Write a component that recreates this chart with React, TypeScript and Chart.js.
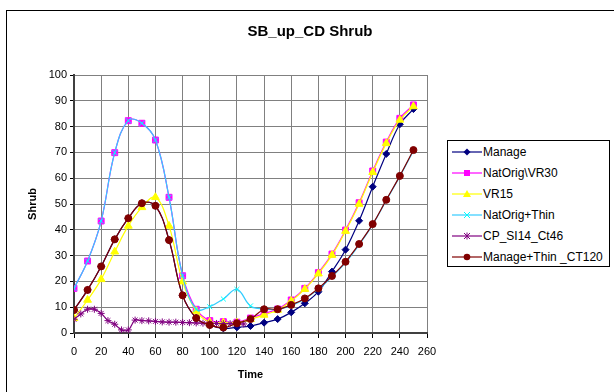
import React, { useEffect, useRef } from 'react';
import { Chart, registerables } from 'chart.js';
Chart.register(...registerables);

const TITLE = 'SB_up_CD Shrub';
const X_TITLE = 'Time';
const Y_TITLE = 'Shrub';
const X_MIN = 0;
const X_MAX = 260;
const X_STEP = 20;
const Y_MIN = 0;
const Y_MAX = 100;
const Y_STEP = 10;

const TIMES = [0, 10, 20, 30, 40, 50, 60, 70, 80, 90, 100, 110, 120, 130, 140, 150, 160, 170, 180, 190, 200, 210, 220, 230, 240, 250];
const MANAGE = [8.9, 16.7, 25.8, 36.3, 44.5, 50.3, 49.3, 36.0, 14.6, 5.8, 3.0, 1.8, 2.2, 2.7, 4.0, 5.4, 8.0, 11.5, 16.0, 23.8, 32.3, 43.5, 56.7, 69.4, 80.9, 86.8];
const NATORIG_VR30 = [17.3, 27.9, 43.4, 69.9, 82.3, 81.3, 74.8, 52.6, 22.2, 9.2, 4.8, 4.4, 4.2, 5.8, 7.5, 9.3, 12.8, 17.3, 23.4, 30.6, 39.9, 50.5, 62.8, 74.0, 83.2, 88.4];
const VR15 = [5.7, 12.8, 20.8, 31.5, 41.5, 48.7, 52.6, 41.5, 19.9, 8.5, 4.2, 4.0, 4.0, 5.3, 7.0, 8.9, 12.4, 17.0, 23.0, 30.2, 39.5, 50.0, 62.3, 73.5, 82.6, 87.8];
const NATORIG_THIN = [17.3, 27.9, 43.4, 69.9, 82.3, 81.3, 74.8, 52.6, 22.2, 9.2, 10.2, 13.2, 16.9, 10.5, 9.3, 9.2, 10.6, 13.2, 17.0, 21.8, 27.3, 34.2, 42.0, 51.4, 60.7, 70.6];
const MANAGE_THIN = [8.9, 16.7, 25.8, 36.3, 44.5, 50.3, 49.3, 36.0, 14.6, 5.8, 3.1, 2.1, 3.8, 5.4, 9.2, 9.2, 10.9, 13.4, 17.3, 22.1, 27.6, 34.5, 42.2, 51.6, 60.9, 70.9];
const CP_TIMES = [0, 5, 10, 15, 20, 25, 30, 35, 40, 45, 50, 55, 60, 65, 70, 75, 80, 85, 90, 95, 100, 105, 110, 115, 120, 125];
const CP_SI14 = [5.3, 7.4, 9.2, 9.2, 7.6, 4.8, 3.4, 1.2, 1.2, 5.0, 4.8, 4.7, 4.5, 4.3, 4.2, 4.2, 4.1, 4.0, 3.9, 3.8, 3.8, 3.7, 3.6, 3.6, 3.5, 3.5];

const NAMES = ['Manage', 'NatOrig\\VR30', 'VR15', 'NatOrig+Thin', 'CP_SI14_Ct46', 'Manage+Thin _CT120'];

const FONT = "'Liberation Sans', Arial, sans-serif";

type Style = { line: string; fill: string; stroke: string; point: string; radius: number };
const STYLES: Style[] = [
  { line: '#000080', fill: '#000080', stroke: '#000080', point: 'rectRot', radius: 3.5 },
  { line: '#FF00FF', fill: '#FF00FF', stroke: '#FF00FF', point: 'rect', radius: 4.2 },
  { line: '#FFFF00', fill: '#FFFF00', stroke: '#FFFF00', point: 'triangle', radius: 4.5 },
  { line: '#33CCFF', fill: '#00FFFF', stroke: '#00FFFF', point: 'crossRot', radius: 3.5 },
  { line: '#800080', fill: '#800080', stroke: '#800080', point: 'star', radius: 3.5 },
  { line: '#800000', fill: '#800000', stroke: '#800000', point: 'circle', radius: 3.5 },
];

function pts(xs: number[], ys: number[]) {
  return xs.map((x, i) => ({ x, y: ys[i] }));
}

function Marker({ i }: { i: number }) {
  const s = STYLES[i];
  const cx = 15, cy = 6;
  let m: React.ReactNode = null;
  if (i === 0) m = <polygon points={`${cx},${cy - 3.5} ${cx + 3.5},${cy} ${cx},${cy + 3.5} ${cx - 3.5},${cy}`} fill={s.fill} />;
  if (i === 1) m = <rect x={cx - 3} y={cy - 3} width={6} height={6} fill={s.fill} />;
  if (i === 2) m = <polygon points={`${cx},${cy - 4} ${cx + 4},${cy + 3} ${cx - 4},${cy + 3}`} fill={s.fill} />;
  if (i === 3) m = <g stroke={s.stroke} strokeWidth={1}><line x1={cx - 3} y1={cy - 3} x2={cx + 3} y2={cy + 3} /><line x1={cx - 3} y1={cy + 3} x2={cx + 3} y2={cy - 3} /></g>;
  if (i === 4) m = <g stroke={s.stroke} strokeWidth={1}><line x1={cx - 3} y1={cy - 3} x2={cx + 3} y2={cy + 3} /><line x1={cx - 3} y1={cy + 3} x2={cx + 3} y2={cy - 3} /><line x1={cx} y1={cy - 3.5} x2={cx} y2={cy + 3.5} /></g>;
  if (i === 5) m = <circle cx={cx} cy={cy} r={3.3} fill={s.fill} />;
  return (
    <svg width={30} height={12} style={{ position: 'absolute', left: 4, top: -6 }}>
      <line x1={0} y1={cy} x2={30} y2={cy} stroke={s.line} strokeWidth={1.2} />
      {m}
    </svg>
  );
}

export default function App() {
  const ref = useRef<HTMLCanvasElement | null>(null);
  useEffect(() => {
    if (!ref.current) return;
    const series = [MANAGE, NATORIG_VR30, VR15, NATORIG_THIN, CP_SI14, MANAGE_THIN];
    const datasets = series.map((vals, i) => {
      const s = STYLES[i];
      const xs = i === 4 ? CP_TIMES : TIMES;
      return {
        label: NAMES[i],
        data: pts(xs, vals),
        borderColor: s.line,
        backgroundColor: s.fill,
        borderWidth: 1.2,
        tension: 0.4,
        pointStyle: s.point as any,
        pointRadius: s.radius,
        pointBackgroundColor: s.fill,
        pointBorderColor: s.stroke,
        pointBorderWidth: 1,
        order: 5 - i,
      };
    });
    const chart = new Chart(ref.current, {
      type: 'line',
      data: { datasets },
      options: {
        animation: false,
        responsive: false,
        devicePixelRatio: 1,
        layout: { padding: { left: 8, right: 187, top: 75, bottom: 0 } },
        plugins: {
          legend: { display: false },
          tooltip: { enabled: false },
          title: { display: false },
        },
        scales: {
          x: {
            type: 'linear',
            min: X_MIN,
            max: X_MAX,
            afterFit: (scale: any) => { scale.height = 59; },
            ticks: { stepSize: X_STEP, color: '#000', font: { family: FONT, size: 11 }, padding: 7, maxRotation: 0 },
            grid: { color: '#808080', tickColor: '#000', tickLength: 5, lineWidth: 1 },
            border: { display: true, color: '#404040', width: 2 },
            title: { display: true, text: X_TITLE, color: '#000', font: { family: FONT, size: 11, weight: 'bold' }, padding: { top: 0, bottom: 10 } },
          },
          y: {
            min: Y_MIN,
            max: Y_MAX,
            afterFit: (scale: any) => { scale.width = 66; },
            ticks: { stepSize: Y_STEP, color: '#000', font: { family: FONT, size: 11 }, padding: 3 },
            grid: { color: '#808080', tickColor: '#000', tickLength: 4, lineWidth: 1 },
            border: { display: true, color: '#404040', width: 2 },
            title: { display: true, text: Y_TITLE, color: '#000', font: { family: FONT, size: 11, weight: 'bold' }, padding: { top: 18, bottom: 0 } },
          },
        },
      } as any,
    });
    return () => chart.destroy();
  }, []);

  return (
    <div style={{ position: 'absolute', left: 0, top: 0, width: 614, height: 392, overflow: 'hidden', background: '#fff' }}>
      <div style={{ position: 'absolute', left: 6, top: 10, width: 700, height: 500, border: '1px solid #000' }} />
      <canvas ref={ref} width={614} height={392} style={{ position: 'absolute', left: 0, top: 0, width: 614, height: 392 }} />
      <div style={{ position: 'absolute', left: 110, width: 400, top: 21, textAlign: 'center', fontFamily: FONT, fontSize: 15, fontWeight: 'bold', lineHeight: '20px', color: '#000' }}>{TITLE}</div>
      <div style={{ position: 'absolute', left: 447, top: 140, width: 161, height: 125, border: '1px solid #000', background: '#fff', fontFamily: FONT, fontSize: 12, color: '#000' }}>
        {NAMES.map((n, i) => (
          <div key={n} style={{ position: 'absolute', left: 0, top: 10.5 + i * 21.1, height: 0 }}>
            <Marker i={i} />
            <span style={{ position: 'absolute', left: 35, top: -8, whiteSpace: 'nowrap', lineHeight: '16px' }}>{n}</span>
          </div>
        ))}
      </div>
    </div>
  );
}
